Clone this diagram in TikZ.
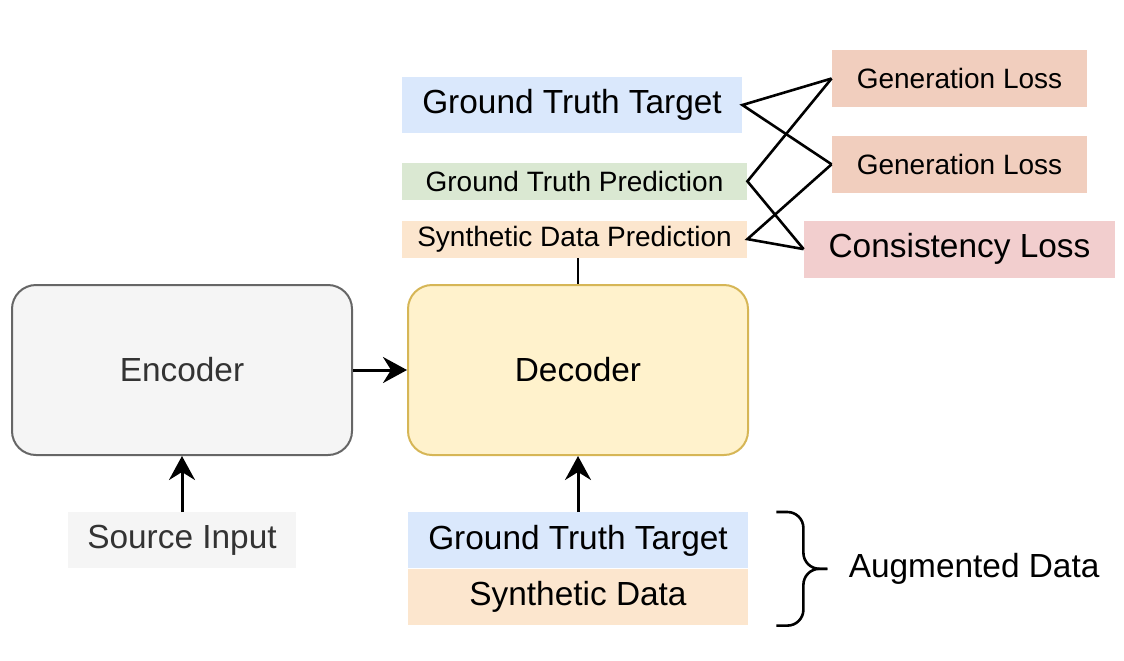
\documentclass[tikz,border=0pt]{standalone}
\usepackage{fontspec}
\setmainfont{Liberation Sans}
\usepackage{xcolor}
\usepackage{tikz}
\usetikzlibrary{arrows.meta, positioning}
\definecolor{encfill}{RGB}{245,245,245}
\definecolor{encdraw}{RGB}{102,102,102}
\definecolor{enctext}{RGB}{51,51,51}
\definecolor{decfill}{RGB}{255,242,204}
\definecolor{decdraw}{RGB}{214,182,86}
\definecolor{tgtblue}{RGB}{218,232,252}
\definecolor{predgreen}{RGB}{218,232,210}
\definecolor{synorange}{RGB}{252,230,206}
\definecolor{genloss}{RGB}{241,206,190}
\definecolor{consloss}{RGB}{242,206,206}

\tikzset{
    bigtext/.style={font=\fontsize{16.7}{20}\selectfont},
    smalltext/.style={font=\fontsize{14}{17}\selectfont},
    block/.style={rounded corners=12pt, line width=1pt, minimum width=170pt, minimum height=85pt, inner sep=0pt, bigtext},
    tag/.style={inner sep=0pt, minimum height=28pt, bigtext},
    pred/.style={inner sep=0pt, minimum width=172.5pt, minimum height=18.5pt, smalltext},
    loss/.style={inner sep=0pt, minimum width=127.5pt, minimum height=28.5pt, fill=genloss, smalltext},
    arrow/.style={line width=1.5pt, -{Stealth[length=12pt, width=13pt, inset=4pt]}},
    link/.style={line width=1.3pt}
}

\begin{document}
\begin{tikzpicture}
            \useasboundingbox (0,0) rectangle (562pt,-330pt);

            % encoder / decoder
            \node (encoder) [block, draw=encdraw, fill=encfill, text=enctext] at (91pt,-185pt) {Encoder};
            \node (decoder) [block, draw=decdraw, fill=decfill, right=27pt of encoder] {Decoder};
            \draw[arrow] (encoder) -- (decoder);

            % inputs
            \node (source_input) [tag, minimum width=114pt, fill=encfill, text=enctext, below=28pt of encoder] {Source Input};
            \draw[arrow] (source_input) -- (encoder);

            \node (aug_target) [tag, minimum width=170pt, fill=tgtblue, below=28pt of decoder] {Ground Truth Target};
            \node (aug_synthetic) [tag, minimum width=170pt, fill=synorange, below=0pt of aug_target] {Synthetic Data};
            \draw[arrow] (aug_target) -- (decoder);

                \coordinate (brace_top) at ([xshift=14pt]aug_target.north east);
                \coordinate (brace_bot) at ([xshift=14pt]aug_synthetic.south east);
                \coordinate (brace_tip) at ([xshift=39.5pt]aug_target.south east);
                \draw[link, rounded corners=8pt] (brace_top) -- ++(13.5pt,0) |- (brace_tip);
                \draw[link, rounded corners=8pt] (brace_bot) -- ++(13.5pt,0) |- (brace_tip);
                \node (augmented_label) [bigtext, inner sep=0pt, right=10.5pt of brace_tip] {Augmented Data};

            % outputs
            \node (syn_prediction) [pred, fill=synorange, above=13pt of decoder, xshift=-1.75pt] {Synthetic Data Prediction};
            \node (gt_prediction) [pred, fill=predgreen, above=10pt of syn_prediction] {Ground Truth Prediction};
            \node (target_top) [tag, minimum width=170pt, fill=tgtblue, above right=14.5pt and 0pt of gt_prediction.north west] {Ground Truth Target};
            \draw[line width=1.3pt] (syn_prediction.south -| decoder) -- (decoder);

            % losses
            \node (gen_loss_one) [loss] at (479.75pt,-39.25pt) {Generation Loss};
            \node (gen_loss_two) [loss, below=14pt of gen_loss_one] {Generation Loss};
            \node (consistency_loss) [loss, fill=consloss, minimum width=155.5pt, bigtext, below=13.5pt of gen_loss_two] {Consistency Loss};

            \draw[link] (gen_loss_one.west) -- (target_top.east) -- (gen_loss_two.west);
            \draw[link] (gen_loss_one.west) -- (gt_prediction.east) -- (consistency_loss.west);
            \draw[link] (gen_loss_two.west) -- (syn_prediction.east) -- (consistency_loss.west);
            \end{tikzpicture}
\end{document}
